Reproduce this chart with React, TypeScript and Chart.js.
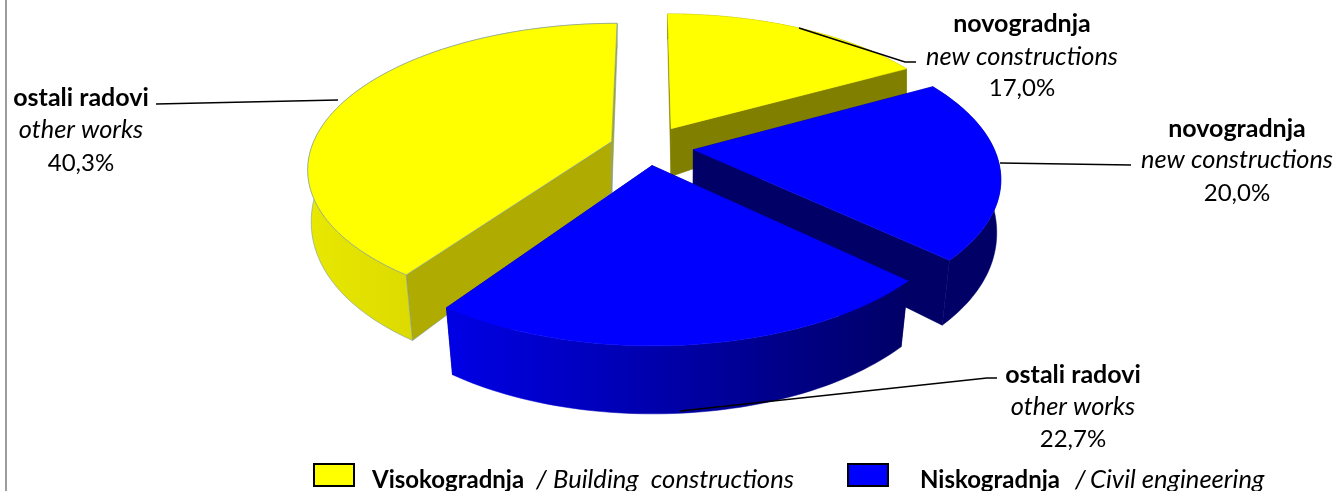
import React, { useEffect, useRef } from "react";
import { Chart, registerables } from "chart.js";

Chart.register(...registerables);

const categories = ["Visokogradnja novogradnja", "Niskogradnja novogradnja", "Niskogradnja ostali radovi", "Visokogradnja ostali radovi"];
const shares = [17.0, 20.0, 22.7, 40.3];
const sliceColors = ["#FFFF00", "#0000FF", "#0000FF", "#FFFF00"];
const sliceOffsets = [116, 114, 97, 96];
const drawOrder = [0, 3, 1, 2];
const cutWallColors = ["#807F00", "#000066", "#000066", "#B0AB00"];
const outerWallLeft = ["#807F00", "#000066", "#0000E6", "#E8E800"];
const outerWallRight = ["#807F00", "#000066", "#000066", "#C4C000"];
const edgeColors = ["", "", "", "rgba(120,150,165,0.55)"];

const titles = ["novogradnja", "novogradnja", "ostali radovi", "ostali radovi"];
const subtitles = ["new constructions", "new constructions", "other works", "other works"];
const percents = ["17,0%", "20,0%", "22,7%", "40,3%"];
const labelCenterX = [1022, 1237, 1073, 81];
const labelLineY = [[24, 57, 88], [129, 160, 193], [375, 407, 439], [98, 130, 163]];
const leaders = [
  [[799, 28], [905, 62], [916, 62]],
  [[1000, 163], [1131, 165]],
  [[680, 411], [987, 378], [997, 378]],
  [[156, 104], [338, 100]],
];

const FONT = "Lato, sans-serif";
const PLANE_R = 300;
const CX = 648;
const CY = 147;
const TILT = 0.47;
const CAMERA = 5.65;
const steps = 60;

function wallDepth(y: number) {
  return Math.max(25, 70 - 45 * Math.exp(-(y - 65) / 90));
}

type P = { x: number; y: number };

function bottom(p: P): P {
  const shrink = 0.03 * Math.min(1, Math.max(0, (p.y - 100) / 200));
  return { x: CX + (p.x - CX) * (1 - shrink), y: p.y + wallDepth(p.y) };
}

function polygon(ctx: CanvasRenderingContext2D, pts: P[]) {
  ctx.beginPath();
  pts.forEach((p, i) => (i ? ctx.lineTo(p.x, p.y) : ctx.moveTo(p.x, p.y)));
  ctx.closePath();
}

const pie3d = {
  id: "pie3d",
  beforeDatasetsDraw(chart: any) {
    const ctx: CanvasRenderingContext2D = chart.ctx;
    const arcs = chart.getDatasetMeta(0).data;
    drawOrder.forEach((index) => {
      const el = arcs[index];
      const mid = (el.startAngle + el.endAngle) / 2;
      const off = ((el.options.offset || 0) / 4 / el.outerRadius) * PLANE_R;
      const project = (angle: number, r: number): P => {
        const u = Math.cos(mid) * off + Math.cos(angle) * r * PLANE_R;
        const v = Math.sin(mid) * off + Math.sin(angle) * r * PLANE_R;
        const s = CAMERA / (CAMERA - v / PLANE_R);
        return { x: CX + u * s, y: CY + TILT * v * s };
      };
      const apex = project(0, 0);
      const rim: P[] = [];
      for (let i = 0; i <= steps; i++) {
        rim.push(project(el.startAngle + ((el.endAngle - el.startAngle) * i) / steps, 1));
      }
      const edge = edgeColors[index];
      const paint = (pts: P[], fill: any) => {
        polygon(ctx, pts);
        ctx.fillStyle = fill;
        ctx.fill();
        ctx.strokeStyle = edge || fill;
        ctx.lineWidth = edge ? 1 : 0.5;
        ctx.stroke();
      };
      const first = rim[0];
      const last = rim[rim.length - 1];
      paint([apex, first, bottom(first), bottom(apex)], cutWallColors[index]);
      paint([apex, last, bottom(last), bottom(apex)], cutWallColors[index]);
      const xs = rim.map((p) => p.x);
      const grad = ctx.createLinearGradient(Math.min(...xs), 0, Math.max(...xs), 0);
      grad.addColorStop(0, outerWallLeft[index]);
      grad.addColorStop(1, outerWallRight[index]);
      paint([...rim, ...rim.map(bottom).reverse()], grad);
      paint([apex, ...rim], el.options.backgroundColor);
    });
    return false;
  },
  afterDraw(chart: any) {
    const ctx: CanvasRenderingContext2D = chart.ctx;
    ctx.save();
    ctx.fillStyle = "#9C9C9C";
    ctx.fillRect(5, 0, 2, 491);

    ctx.strokeStyle = "#000000";
    ctx.lineWidth = 1.5;
    leaders.forEach((line) => {
      ctx.beginPath();
      line.forEach(([x, y], i) => (i ? ctx.lineTo(x, y) : ctx.moveTo(x, y)));
      ctx.stroke();
    });

    ctx.fillStyle = "#000000";
    ctx.textAlign = "center";
    ctx.textBaseline = "middle";
    titles.forEach((title, i) => {
      const [a, b, c] = labelLineY[i];
      ctx.font = `bold 25px ${FONT}`;
      ctx.fillText(title, labelCenterX[i], a);
      ctx.font = `italic 25.4px ${FONT}`;
      ctx.fillText(subtitles[i], labelCenterX[i], b);
      ctx.font = `24px ${FONT}`;
      ctx.fillText(percents[i], labelCenterX[i], c);
    });

    ctx.textAlign = "left";
    const legendBoxes = [
      { x: 314, fill: "#FFFF00" },
      { x: 848, fill: "#0000FF" },
    ];
    legendBoxes.forEach((b) => {
      ctx.fillStyle = b.fill;
      ctx.strokeStyle = "#000000";
      ctx.lineWidth = 2;
      ctx.fillRect(b.x, 464, 40, 22);
      ctx.strokeRect(b.x, 464, 40, 22);
    });
    ctx.fillStyle = "#000000";
    ctx.font = `bold 24px ${FONT}`;
    ctx.fillText("Visokogradnja", 372, 480);
    ctx.fillText("Niskogradnja", 920, 480);
    ctx.font = `italic 25.6px ${FONT}`;
    ctx.fillText("/", 536, 480);
    ctx.fillText("Building  constructions", 553, 480);
    ctx.fillText("/", 1075, 480);
    ctx.fillText("Civil engineering", 1090, 480);
    ctx.restore();
  },
};

export default function App() {
  const ref = useRef<HTMLCanvasElement>(null);
  useEffect(() => {
    const chart = new Chart(ref.current as HTMLCanvasElement, {
      type: "pie",
      data: {
        labels: categories,
        datasets: [{ data: shares, backgroundColor: sliceColors, offset: sliceOffsets, borderWidth: 0 }],
      },
      options: {
        animation: false,
        responsive: false,
        maintainAspectRatio: false,
        plugins: { legend: { display: false }, tooltip: { enabled: false } },
      },
      plugins: [pie3d],
    } as any);
    return () => chart.destroy();
  }, []);
  return (
    <div style={{ position: "absolute", left: 0, top: 0, width: 1336, height: 491, background: "#fff" }}>
      <canvas ref={ref} width={1336} height={491} style={{ display: "block" }} />
    </div>
  );
}
